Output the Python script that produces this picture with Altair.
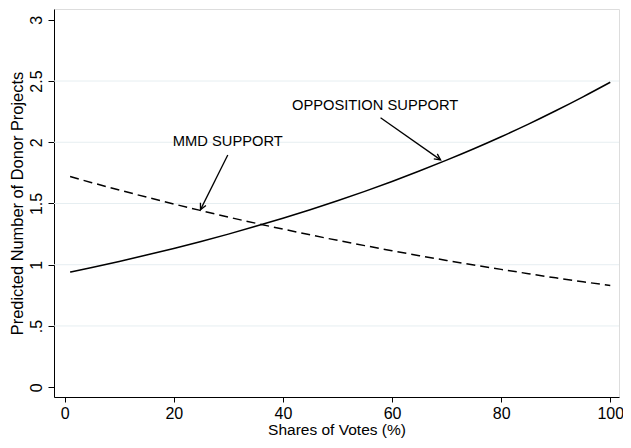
import altair as alt
import pandas as pd

# ---- data ----
x_vals = [1, 5, 10, 15, 20, 25, 30, 35, 40, 45, 50, 55, 60, 65, 70, 75, 80, 85, 90, 95, 100]
opposition = [0.940, 0.978, 1.027, 1.079, 1.133, 1.190, 1.250, 1.314, 1.380, 1.449, 1.522,
              1.599, 1.680, 1.765, 1.854, 1.947, 2.045, 2.148, 2.257, 2.371, 2.490]
mmd = [1.720, 1.670, 1.610, 1.552, 1.496, 1.442, 1.389, 1.339, 1.291, 1.244, 1.199,
       1.156, 1.114, 1.074, 1.035, 0.998, 0.962, 0.927, 0.893, 0.861, 0.830]

x_ticks = [0, 20, 40, 60, 80, 100]
y_ticks = [0, 0.5, 1, 1.5, 2, 2.5, 3]
grid_vals = [0.5, 1, 1.5, 2, 2.5]

ann_labels = ["MMD SUPPORT", "OPPOSITION SUPPORT"]
ann_x = [29.9, 56.9]
ann_y = [2.00, 2.30]
arrow_x = [29.9, 57.9]
arrow_y = [1.896, 2.20]
arrow_x2 = [24.9, 68.9]
arrow_y2 = [1.45, 1.856]
arrow_angle = [26, 305]

FONT = "Liberation Sans"

curves = pd.DataFrame({"x": x_vals, "opp": opposition, "mmd": mmd})
grid_df = pd.DataFrame({"g": grid_vals})
ann_df = pd.DataFrame({"label": ann_labels, "x": ann_x, "y": ann_y})
arrow_df = pd.DataFrame({"x": arrow_x, "y": arrow_y, "x2": arrow_x2, "y2": arrow_y2,
                         "ang": arrow_angle})

xscale = alt.Scale(domain=[-1.95, 101.6], nice=False, zero=False)
yscale = alt.Scale(domain=[-0.08, 3.088], nice=False, zero=False)

xaxis = alt.Axis(values=x_ticks, title="Shares of Votes (%)", grid=False,
                 domainColor="black", tickColor="black", tickSize=5,
                 labelFontSize=16, titleFontSize=15.5, labelFont=FONT, titleFont=FONT,
                 labelColor="black", titleColor="black", labelPadding=3,
                 titlePadding=1, titleFontWeight="normal", labelFlush=False)
yaxis = alt.Axis(values=y_ticks, title="Predicted Number of Donor Projects", grid=False,
                 domainColor="black", tickColor="black", tickSize=6,
                 labelFontSize=16, titleFontSize=16.4, labelFont=FONT, titleFont=FONT,
                 labelColor="black", titleColor="black", labelAngle=270,
                 labelPadding=4, titlePadding=3, titleFontWeight="normal", labelFlush=False,
                 labelExpr="datum.value == 0.5 ? '.5' : format(datum.value, '~g')")

grid = alt.Chart(grid_df).mark_rule(color="#e6eef1", strokeWidth=1).encode(
    y=alt.Y("g:Q", scale=yscale, axis=yaxis)
)

solid = alt.Chart(curves).mark_line(color="black", strokeWidth=1.5, interpolate="monotone").encode(
    x=alt.X("x:Q", scale=xscale, axis=xaxis),
    y=alt.Y("opp:Q", scale=yscale),
)
dashed = alt.Chart(curves).mark_line(color="black", strokeWidth=1.5, strokeDash=[9, 5],
                                     interpolate="monotone").encode(
    x=alt.X("x:Q", scale=xscale),
    y=alt.Y("mmd:Q", scale=yscale),
)

texts = alt.Chart(ann_df).mark_text(font=FONT, fontSize=14.7, color="black",
                                    align="center", baseline="middle").encode(
    x=alt.X("x:Q", scale=xscale), y=alt.Y("y:Q", scale=yscale), text="label:N"
)

arrow_lines = alt.Chart(arrow_df).mark_rule(color="black", strokeWidth=1.3).encode(
    x=alt.X("x:Q", scale=xscale), y=alt.Y("y:Q", scale=yscale), x2="x2:Q", y2="y2:Q"
)
arrow_heads = alt.Chart(arrow_df).mark_point(
    shape="M -0.5 -1 L 0 0 L 0.5 -1", filled=False, color="black",
    strokeWidth=1.3, size=150, opacity=1
).encode(
    x=alt.X("x2:Q", scale=xscale), y=alt.Y("y2:Q", scale=yscale),
    angle=alt.Angle("ang:Q", scale=None)
)

chart = alt.layer(grid, solid, dashed, arrow_lines, arrow_heads, texts).properties(
    width=565, height=388,
    autosize=alt.AutoSizeParams(type="none"),
    padding={"left": 46, "top": 1, "right": 4, "bottom": 41},
).configure_view(stroke="#333333", strokeWidth=1.3).configure(background="white")

chart.save("out.html", embed_options={"renderer": "svg", "actions": False})
